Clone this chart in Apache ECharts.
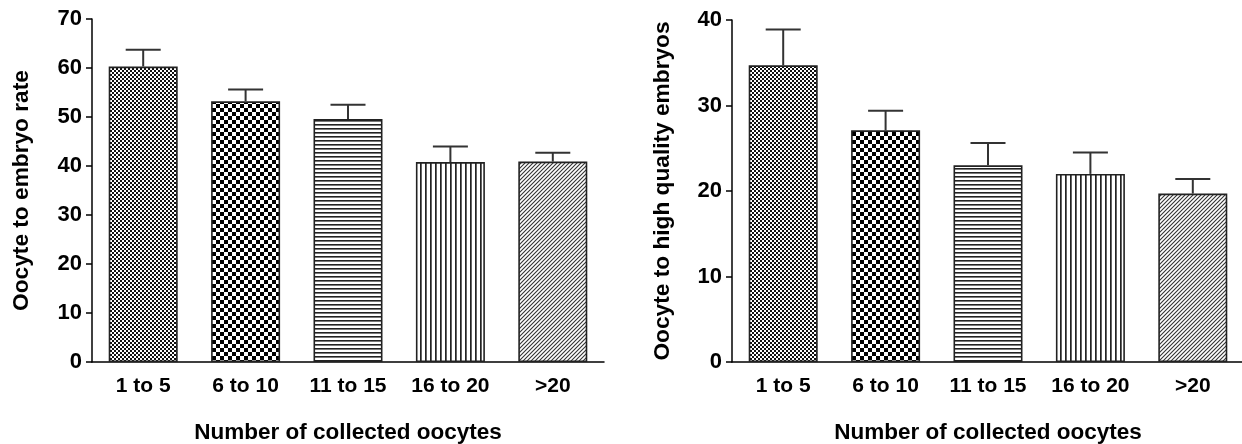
<!DOCTYPE html>
<html>
<head>
<meta charset="utf-8">
<script src="https://cdn.jsdelivr.net/npm/echarts@6/dist/echarts.min.js"></script>
<style>
html,body{margin:0;padding:0;background:#fff;}
#chart{width:1242px;height:444px;}
</style>
</head>
<body>
<div id="chart"></div>
<script>
// ---- data ----
const categories = ['1 to 5', '6 to 10', '11 to 15', '16 to 20', '>20'];
const embryoRate = [60.3, 53.2, 49.6, 40.8, 40.9];
const embryoRateErr = [3.4, 2.4, 2.9, 3.2, 1.8];
const hqEmbryos = [34.7, 27.1, 23.0, 22.0, 19.7];
const hqEmbryosErr = [4.2, 2.3, 2.6, 2.5, 1.7];
const leftYTicks = {min: 0, max: 70, interval: 10};
const rightYTicks = {min: 0, max: 40, interval: 10};
const leftYName = 'Oocyte to embryo rate';
const rightYName = 'Oocyte to high quality embryos';
const xName = 'Number of collected oocytes';

// ---- patterns ----
function makeTile(w, h, draw) {
  const c = document.createElement('canvas');
  c.width = w; c.height = h;
  const ctx = c.getContext('2d');
  ctx.fillStyle = '#fff';
  ctx.fillRect(0, 0, w, h);
  draw(ctx, w, h);
  return {image: c, repeat: 'repeat'};
}
const patterns = [
  () => makeTile(4, 4, (ctx) => { ctx.fillStyle = '#111'; ctx.fillRect(0,0,2,2); ctx.fillRect(2,2,2,2); }),
  () => makeTile(8, 8, (ctx) => { ctx.fillStyle = '#000'; ctx.fillRect(0,0,4,4); ctx.fillRect(4,4,4,4); }),
  () => makeTile(4, 4, (ctx) => { ctx.fillStyle = '#222'; ctx.fillRect(0,0,4,1.6); }),
  () => makeTile(5, 5, (ctx) => { ctx.fillStyle = '#222'; ctx.fillRect(0,0,1.7,5); }),
  () => makeTile(4, 4, (ctx) => {
    ctx.strokeStyle = '#333'; ctx.lineWidth = 1.1;
    ctx.beginPath();
    ctx.moveTo(-1, 5); ctx.lineTo(5, -1);
    ctx.moveTo(-1, 1); ctx.lineTo(1, -1);
    ctx.moveTo(3, 5); ctx.lineTo(5, 3);
    ctx.stroke();
  })
];

const FONT = '"Liberation Sans", Arial, sans-serif';
const txt = {color: '#000', fontWeight: 'bold', fontFamily: FONT};

function barData(values) {
  return values.map((v, i) => ({
    value: v,
    itemStyle: {color: patterns[i](), borderColor: '#222', borderWidth: 1.6}
  }));
}
function errData(values, errs) {
  return values.map((v, i) => [i, v, v + errs[i]]);
}
function errRender(params, api) {
  const x = api.value(0);
  const base = api.coord([x, api.value(1)]);
  const top = api.coord([x, api.value(2)]);
  const half = 17.5;
  const style = {stroke: '#333', lineWidth: 2};
  return {
    type: 'group',
    children: [
      {type: 'line', shape: {x1: base[0], y1: base[1], x2: top[0], y2: top[1]}, style},
      {type: 'line', shape: {x1: top[0] - half, y1: top[1], x2: top[0] + half, y2: top[1]}, style}
    ]
  };
}

function xAxis(idx) {
  return {
    gridIndex: idx, type: 'category', data: categories,
    name: xName, nameLocation: 'middle', nameGap: 59,
    nameTextStyle: Object.assign({fontSize: 22.5}, txt),
    axisLine: {lineStyle: {color: '#000', width: 1.5}},
    axisTick: {alignWithLabel: true, length: 7, lineStyle: {color: '#000', width: 1.5}},
    axisLabel: Object.assign({fontSize: 21, margin: 14}, txt),
    splitLine: {show: false}
  };
}
function yAxis(idx, ticks, name, gap) {
  return {
    gridIndex: idx, type: 'value', min: ticks.min, max: ticks.max, interval: ticks.interval,
    name: name, nameLocation: 'middle', nameGap: gap,
    nameTextStyle: Object.assign({fontSize: 22.7}, txt),
    axisLine: {show: true, lineStyle: {color: '#000', width: 1.5}},
    axisTick: {show: true, length: 6, lineStyle: {color: '#000', width: 1.5}},
    axisLabel: Object.assign({fontSize: 22, margin: 10}, txt),
    splitLine: {show: false}
  };
}

const chart = echarts.init(document.getElementById('chart'));
chart.setOption({
  backgroundColor: '#fff',
  animation: false,
  grid: [
    {left: 92, top: 19, width: 512, height: 343, containLabel: false, outerBoundsMode: 'none'},
    {left: 732, top: 20, width: 512, height: 342, containLabel: false, outerBoundsMode: 'none'}
  ],
  xAxis: [xAxis(0), xAxis(1)],
  yAxis: [yAxis(0, leftYTicks, leftYName, 59), yAxis(1, rightYTicks, rightYName, 58)],
  series: [
    {type: 'bar', xAxisIndex: 0, yAxisIndex: 0, barWidth: 69, data: barData(embryoRate), z: 2},
    {type: 'custom', xAxisIndex: 0, yAxisIndex: 0, renderItem: errRender, data: errData(embryoRate, embryoRateErr), z: 3},
    {type: 'bar', xAxisIndex: 1, yAxisIndex: 1, barWidth: 69, data: barData(hqEmbryos), z: 2},
    {type: 'custom', xAxisIndex: 1, yAxisIndex: 1, renderItem: errRender, data: errData(hqEmbryos, hqEmbryosErr), z: 3}
  ]
});
</script>
</body>
</html>
